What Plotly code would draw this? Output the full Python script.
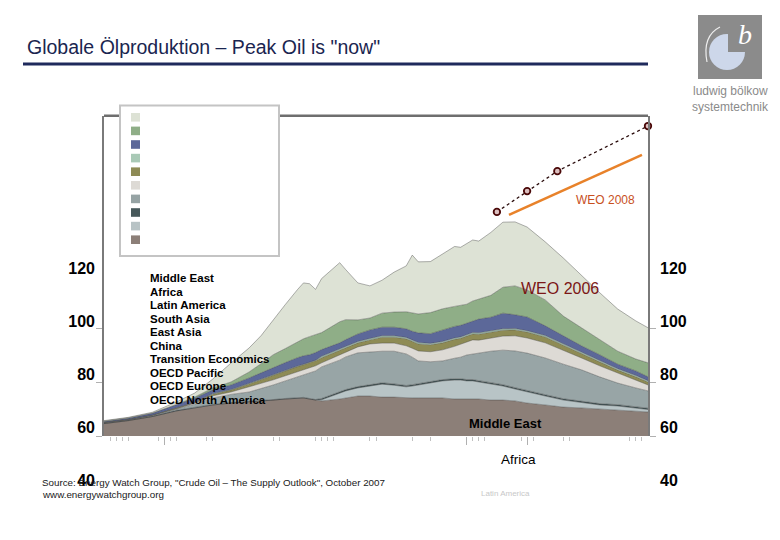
import plotly.graph_objects as go

W, H = 780, 540

years = [1940, 1944, 1948, 1952, 1955, 1958, 1961, 1964, 1966, 1968, 1970, 1972, 1973, 1974, 1975,
         1976, 1979, 1980, 1982, 1984, 1986, 1988, 1990, 1991, 1992, 1994, 1996, 1998, 1999, 2000,
         2001, 2002, 2004, 2006, 2008, 2010, 2013, 2016, 2019, 2022, 2025, 2028, 2030]

# stacked layers, bottom -> top (mb/d)
layer_brown = [64.6, 65.7, 67.2, 69.3, 70.4, 71.5, 72.2, 72.6, 73.0, 73.3, 73.7, 74.1, 74.1, 73.7, 73.3,
               73.0, 73.7, 74.1, 74.8, 74.8, 74.4, 74.4, 74.1, 74.1, 74.1, 74.1, 74.1, 73.7, 73.7, 73.7,
               73.7, 73.7, 73.3, 73.3, 73.0, 72.2, 71.5, 70.7, 70.4, 70.0, 69.6, 69.3, 68.9]
layer_lightblue = [0, 0, 0, 0, 0, 0, 0, 0, 0, 0, 0, 0, 0, 0, 0,
                   0.4, 2.2, 2.6, 3.0, 3.7, 4.8, 4.4, 4.1, 4.4, 4.8, 5.6, 6.3, 7.0, 7.0, 6.7,
                   6.7, 6.3, 5.9, 5.2, 4.4, 4.1, 3.3, 2.6, 1.9, 1.5, 1.5, 1.1, 0.9]
layer_dark = [0.2] * 15 + [0.5] * 28
layer_greyblue = [0.1, 0.1, 0.2, 0.4, 1.2, 2.4, 3.0, 3.5, 4.3, 5.4, 6.5, 7.6, 8.3, 9.4, 10.6,
                  11.7, 11.7, 12.1, 12.5, 12.1, 11.7, 12.1, 11.7, 10.2, 8.4, 7.3, 6.9, 7.6, 8.0, 9.1,
                  9.5, 10.2, 11.7, 12.8, 13.6, 13.9, 13.6, 12.8, 11.7, 9.9, 8.0, 6.9, 6.4]
layer_lightgrey = [0.1, 0.1, 0.1, 0.2, 0.4, 0.8, 0.9, 1.9, 1.9, 1.9, 1.9, 1.9, 1.9, 1.9, 1.9,
                   1.5, 1.9, 1.9, 2.2, 3.0, 3.0, 3.0, 3.0, 3.3, 3.7, 3.7, 4.1, 4.4, 4.8, 4.8,
                   5.2, 4.8, 4.8, 5.2, 5.6, 5.6, 5.6, 5.2, 4.4, 4.1, 3.7, 3.0, 2.2]
layer_olive = [0.1, 0.1, 0.1, 0.2, 0.2, 0.6, 0.7, 1.1, 1.5, 1.9, 1.9, 1.9, 1.9, 1.9, 1.9,
               1.9, 1.9, 1.5, 1.5, 1.5, 2.2, 2.2, 2.6, 2.6, 2.6, 2.6, 2.6, 2.6, 2.2, 2.2,
               2.2, 2.2, 2.2, 2.2, 2.2, 2.2, 2.2, 1.9, 1.5, 1.5, 1.1, 1.1, 1.1]
layer_teal = [0, 0, 0, 0.1, 0.1] + [0.2] * 10 + [0.5] * 28
layer_blue = [0.3, 0.4, 0.6, 1.1, 1.5, 1.4, 1.7, 2.0, 2.4, 2.4, 2.8, 3.1, 3.1, 2.8, 2.8,
              2.5, 2.1, 2.5, 2.8, 3.2, 3.2, 3.2, 3.2, 3.2, 3.6, 3.6, 4.3, 4.3, 4.3, 4.3,
              4.3, 5.1, 5.1, 5.8, 5.1, 5.1, 3.6, 2.8, 2.5, 2.1, 1.7, 1.7, 1.4]
layer_green = [0.1, 0.1, 0.1, 0.2, 0.4, 0.7, 1.1, 2.2, 3.3, 4.8, 5.2, 5.9, 6.3, 6.7, 6.7,
               6.3, 7.8, 7.4, 5.2, 4.4, 5.2, 5.6, 6.3, 6.7, 7.0, 7.8, 7.8, 7.4, 7.4, 7.0,
               7.4, 7.4, 8.1, 9.6, 10.7, 10.0, 9.6, 7.4, 6.7, 5.6, 4.8, 4.4, 5.2]
layer_top = [0.2, 0.2, 0.3, 0.9, 1.5, 3.3, 7.0, 8.9, 10.4, 13.0, 16.3, 19.3, 20.7, 19.6, 16.7,
             20.0, 21.9, 18.5, 13.7, 11.9, 12.2, 14.8, 17.0, 21.5, 19.3, 18.9, 20.4, 22.2, 21.5, 22.6,
             22.6, 21.5, 23.3, 24.1, 23.7, 23.3, 21.5, 21.5, 19.3, 17.4, 15.6, 14.1, 13.0]

layers = [layer_brown, layer_lightblue, layer_dark, layer_greyblue, layer_lightgrey,
          layer_olive, layer_teal, layer_blue, layer_green, layer_top]
layer_names = ["Middle East", "Africa", "Latin America", "South Asia", "East Asia", "China",
               "Transition Economics", "OECD Pacific", "OECD Europe", "OECD North America"]
layer_colors = ["#8c7f78", "#b8c4c6", "#46585a", "#98a5a6", "#dddad5",
                "#8e8b55", "#a9c9b6", "#5c6899", "#8fae87", "#dde2d5"]

legend_labels = ["Middle East", "Africa", "Latin America", "South Asia", "East Asia", "China",
                 "Transition Economics", "OECD Pacific", "OECD Europe", "OECD North America"]
legend_swatches = ["#dde2d5", "#8fae87", "#5c6899", "#a9c9b6", "#8e8b55",
                   "#dddad5", "#96a3a4", "#46585a", "#b8c3c5", "#8c7f78"]

weo_years = [2005, 2010, 2015, 2030]
weo_values = [143.0, 150.7, 158.1, 174.8]
weo2008_years = [2007, 2029]
weo2008_values = [141.9, 164.1]

y_tick_labels = [40, 60, 80, 100, 120]
x_minor_ticks = [1941, 1942, 1943, 1944, 1949, 1951, 1952, 1957, 1958, 1968, 1969, 1975, 1976,
                 1977, 1978, 1984, 1985, 1991, 1994, 2001, 2002, 2003, 2009, 2011, 2016, 2017,
                 2027, 2028, 2029]
x_major_ticks = [1950, 2000, 2010]


def px(x):
    return x / W


def py(y):
    return 1 - y / H


fig = go.Figure()

for vals, name, col in zip(layers, layer_names, layer_colors):
    fig.add_trace(go.Scatter(x=years, y=vals, name=name, stackgroup="one", mode="lines",
                             line=dict(width=0.7, color="rgba(55,55,55,0.55)"),
                             fillcolor=col, showlegend=False, hoverinfo="skip"))

fig.add_trace(go.Scatter(x=weo2008_years, y=weo2008_values, mode="lines",
                         line=dict(color="#e8822a", width=2.6), showlegend=False, cliponaxis=False))
fig.add_trace(go.Scatter(x=weo_years, y=weo_values, mode="lines+markers",
                         line=dict(color="#2a0c0c", width=1.3, dash="dot"),
                         marker=dict(size=6.5, color="#dcc0c0", line=dict(color="#4a0808", width=1.8)),
                         showlegend=False, cliponaxis=False))

# invisible traces to carry the label axes
fig.add_trace(go.Scatter(x=[None], y=[None], xaxis="x2", yaxis="y2", showlegend=False))
fig.add_trace(go.Scatter(x=[None], y=[None], xaxis="x2", yaxis="y3", showlegend=False))

x0, x1 = 104, 648
y_top, y_bot = 115.7, 436
lab_bot_px, lab_top_px = 500, 115.7
lab_range = [100 - (lab_bot_px - 321) / 2.65, 100 + (321 - lab_top_px) / 2.65]

tickfont = dict(family="Liberation Sans, Arial", size=16, color="black", weight="bold")

fig.update_layout(
    width=W, height=H, autosize=False,
    margin=dict(l=0, r=0, t=0, b=0),
    paper_bgcolor="white", plot_bgcolor="rgba(0,0,0,0)",
    xaxis=dict(domain=[px(x0), px(x1)], range=[1940, 2030], showgrid=False, zeroline=False,
               showticklabels=False, showline=False, ticks="outside", tickmode="array",
               tickvals=x_major_ticks, ticklen=8, tickcolor="#b0b0b0", tickwidth=1,
               minor=dict(tickmode="array", tickvals=x_minor_ticks, ticks="outside",
                          ticklen=4, tickcolor="#c0c0c0", tickwidth=1)),
    xaxis2=dict(domain=[px(x0), px(x1)], anchor="free", position=0, visible=False,
                range=[0, 1]),
    yaxis=dict(domain=[py(y_bot), py(y_top)], range=[60, 60 + (y_bot - y_top) / 2.7],
               showgrid=False, zeroline=False, showticklabels=False, showline=True,
               linecolor="#7a7a7a", linewidth=1.6, mirror="ticks", ticks="outside",
               tickmode="array", tickvals=[60, 80, 100], ticklen=6, tickcolor="#b0b0b0"),
    yaxis2=dict(anchor="free", position=px(95), side="left",
                domain=[py(lab_bot_px), py(lab_top_px)], range=lab_range,
                tickmode="array", tickvals=y_tick_labels, ticks="", showgrid=False,
                zeroline=False, showline=False, tickfont=tickfont),
    yaxis3=dict(anchor="free", position=px(659), side="right",
                domain=[py(lab_bot_px), py(lab_top_px)], range=lab_range,
                tickmode="array", tickvals=y_tick_labels, ticks="", showgrid=False,
                zeroline=False, showline=False, tickfont=tickfont),
    font=dict(family="Liberation Sans, Arial", color="black"),
)

shapes = []
shapes.append(dict(type="line", xref="paper", yref="paper", x0=px(x0), x1=px(x1),
                   y0=py(y_top), y1=py(y_top), line=dict(color="#6e6e6e", width=2.5)))
shapes.append(dict(type="line", xref="paper", yref="paper", x0=px(23), x1=px(648),
                   y0=py(64), y1=py(64), line=dict(color="#1f2a5c", width=3)))
shapes.append(dict(type="rect", xref="paper", yref="paper", x0=px(120), x1=px(279),
                   y0=py(256), y1=py(105.5), fillcolor="white",
                   line=dict(color="#c4c4c4", width=2)))
for i, col in enumerate(legend_swatches):
    cy = 117.3 + 13.6 * i
    shapes.append(dict(type="rect", xref="paper", yref="paper", x0=px(131), x1=px(140),
                       y0=py(cy + 4.3), y1=py(cy - 4.3), fillcolor=col, line=dict(width=0)))
shapes.append(dict(type="rect", xref="paper", yref="paper", x0=px(698), x1=px(762),
                   y0=py(79), y1=py(15), fillcolor="#8b8b8b", line=dict(width=0)))
shapes.append(dict(type="circle", xref="paper", yref="paper", x0=px(709), x1=px(745),
                   y0=py(70), y1=py(34), fillcolor="#cdd7ea", line=dict(width=0)))
shapes.append(dict(type="rect", xref="paper", yref="paper", x0=px(728), x1=px(746),
                   y0=py(52), y1=py(33), fillcolor="#8b8b8b", line=dict(width=0)))
shapes.append(dict(type="path", xref="paper", yref="paper",
                   path=f"M {px(707)},{py(62)} Q {px(702)},{py(36)} {px(720)},{py(27)}",
                   line=dict(color="#eeeeee", width=1.2)))
fig.update_layout(shapes=shapes)

ann = []
ann.append(dict(text='Globale Ölproduktion – Peak Oil is "now"', x=px(25), y=py(47),
                xref="paper", yref="paper", xanchor="left", yanchor="middle", showarrow=False,
                font=dict(size=19.5, color="#1a2550", family="Liberation Sans, Arial")))
ann.append(dict(text="<i>b</i>", x=px(745), y=py(35), xref="paper", yref="paper",
                xanchor="center", yanchor="middle", showarrow=False,
                font=dict(size=28, color="white", family="Liberation Serif, serif")))
ann.append(dict(text="ludwig bölkow", x=px(730), y=py(91), xref="paper", yref="paper",
                xanchor="center", yanchor="middle", showarrow=False,
                font=dict(size=12, color="#8a8a8a")))
ann.append(dict(text="systemtechnik", x=px(730), y=py(107), xref="paper", yref="paper",
                xanchor="center", yanchor="middle", showarrow=False,
                font=dict(size=12, color="#8a8a8a")))
for i, lab in enumerate(legend_labels):
    ann.append(dict(text=lab, x=px(148), y=py(278 + 13.55 * i), xref="paper", yref="paper",
                    xanchor="left", yanchor="middle", showarrow=False,
                    font=dict(size=11.5, color="black", weight="bold")))
ann.append(dict(text="WEO 2008", x=2023, y=147.4, xref="x", yref="y", showarrow=False,
                xanchor="center", yanchor="middle", font=dict(size=12, color="#c8501e")))
ann.append(dict(text="WEO 2006", x=2015.4, y=114.8, xref="x", yref="y", showarrow=False,
                xanchor="center", yanchor="middle", font=dict(size=16, color="#7b1616")))
ann.append(dict(text="Middle East", x=2006.5, y=64.8, xref="x", yref="y", showarrow=False,
                xanchor="center", yanchor="middle",
                font=dict(size=13, color="black", weight="bold")))
ann.append(dict(text="Africa", x=px(518), y=py(459), xref="paper", yref="paper", showarrow=False,
                xanchor="center", yanchor="middle", font=dict(size=13.5, color="black")))
ann.append(dict(text="Latin America", x=px(505), y=py(493), xref="paper", yref="paper",
                showarrow=False, xanchor="center", yanchor="middle",
                font=dict(size=8, color="#c8c8c8")))
ann.append(dict(text='Source: Energy Watch Group, "Crude Oil – The Supply Outlook", October 2007',
                x=px(40), y=py(482), xref="paper", yref="paper", showarrow=False,
                xanchor="left", yanchor="middle", font=dict(size=9.8, color="#202020")))
ann.append(dict(text="www.energywatchgroup.org", x=px(40), y=py(494), xref="paper", yref="paper",
                showarrow=False, xanchor="left", yanchor="middle",
                font=dict(size=9.8, color="#202020")))
fig.update_layout(annotations=ann)

fig.write_html("out.html", config={"displayModeBar": False},
               post_script="document.body.style.margin='0px';")
